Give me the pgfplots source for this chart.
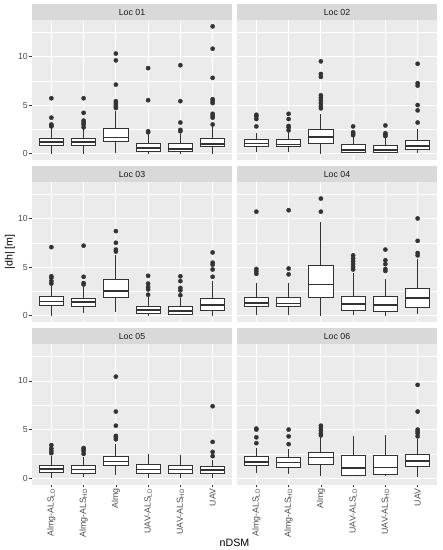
\documentclass[border=0pt]{standalone}
\usepackage{fontspec}
\setmainfont{Liberation Sans}
\usepackage{pgfplots}
\pgfplotsset{compat=1.18}
\usepgfplotslibrary{statistics}
\definecolor{panelbg}{HTML}{EBEBEB}
\definecolor{stripbg}{HTML}{D9D9D9}
\definecolor{boxc}{HTML}{333333}
\definecolor{ticklab}{HTML}{4D4D4D}
\definecolor{striptxt}{HTML}{1A1A1A}

\newcommand{\bx}[6]{\addplot[boxplot prepared={draw direction=y, draw position=#1, lower whisker=#2, lower quartile=#3, median=#4, upper quartile=#5, upper whisker=#6, box extend=0.75, whisker extend=0}, draw=boxc, fill=white, line width=0.8bp, solid] coordinates {};}
\newcommand{\outl}[1]{\addplot[only marks, mark=*, mark size=2.1bp, draw=boxc, fill=boxc, mark options={draw=boxc, fill=boxc}] coordinates {#1};}

\pgfplotsset{
  facet/.style={scale only axis, width=200bp, height=140bp, anchor=south west,
    xmin=0.4, xmax=6.6, ymin=-0.655, ymax=13.755,
    axis background/.style={fill=panelbg}, axis line style={draw=none},
    xmajorgrids, ymajorgrids, yminorgrids,
    xtick={1,2,3,4,5,6}, ytick={0,5,10}, minor ytick={2.5,7.5,12.5},
    major grid style={white, line width=0.9bp},
    minor grid style={white, line width=0.45bp},
    tick align=outside, xtick pos=bottom, ytick pos=left,
    major tick length=3bp, minor tick length=0pt,
    tick style={boxc, line width=0.6bp},
    minor tick style={draw=none},
    xticklabels={}, yticklabels={},
    boxplot/draw direction=y,
    boxplot/every median/.style={line width=1.7bp}},
  ylab/.style={yticklabels={0,5,10}, yticklabel style={font=\fontsize{8.8}{9}\selectfont, text=ticklab, inner sep=1bp}},
  noyt/.style={ytick style={draw=none}},
  xlab/.style={xticklabels={{Almg-ALS\textsubscript{LD}},{Almg-ALS\textsubscript{HD}},{Almg},{UAV-ALS\textsubscript{LD}},{UAV-ALS\textsubscript{HD}},{UAV}},
    xticklabel style={rotate=90, anchor=east, font=\fontsize{8.8}{9}\selectfont, text=ticklab, inner sep=1bp}},
  noxt/.style={xtick style={draw=none}},
}
\newcommand{\strip}[2]{%
  \fill[stripbg] (#1.north west) rectangle ([yshift=16bp]#1.north east);
  \node[font=\fontsize{8.8}{9}\selectfont, text=striptxt] at ([yshift=8bp]#1.north) {#2};}

\begin{document}
\begin{tikzpicture}
\useasboundingbox (0,0) rectangle (443bp,550bp);

% Loc 01
\begin{axis}[facet, ylab, noxt, name=a1, at={(32bp,390bp)}]
\bx{1}{0}{0.82}{1.2}{1.58}{2.64}
\bx{2}{0}{0.8}{1.2}{1.55}{2.5}
\bx{3}{0.05}{1.25}{1.65}{2.55}{4.4}
\bx{4}{0}{0.25}{0.55}{1.05}{2.1}
\bx{5}{0}{0.2}{0.45}{1.05}{2.0}
\bx{6}{0}{0.7}{1.0}{1.6}{2.9}
\outl{(1,5.7)(1,3.7)(1,3.0)(1,2.9)(1,2.8)
(2,5.7)(2,4.2)(2,3.4)(2,3.2)(2,3.0)(2,2.7)
(3,10.3)(3,9.6)(3,7.1)(3,5.4)(3,5.2)(3,5.0)(3,4.8)(3,4.7)
(4,8.8)(4,5.5)(4,2.3)(4,2.2)
(5,9.1)(5,5.4)(5,3.2)(5,2.45)(5,2.3)
(6,13.1)(6,10.8)(6,7.8)(6,5.6)(6,5.4)(6,5.2)(6,4.1)(6,3.9)(6,3.7)(6,3.0)}
\end{axis}

% Loc 02
\begin{axis}[facet, noyt, noxt, name=a2, at={(237bp,390bp)}]
\bx{1}{0.2}{0.72}{1.03}{1.47}{2.1}
\bx{2}{0.2}{0.72}{0.95}{1.45}{2.2}
\bx{3}{0}{1.05}{1.7}{2.45}{4.1}
\bx{4}{0.05}{0.15}{0.35}{0.9}{1.7}
\bx{5}{0.05}{0.15}{0.35}{0.8}{1.6}
\bx{6}{0.1}{0.45}{0.8}{1.4}{2.5}
\outl{(1,2.8)(1,3.56)(1,3.84)(1,4.0)
(2,2.4)(2,2.7)(2,2.85)(2,3.56)(2,4.1)
(3,4.66)(3,4.9)(3,5.2)(3,5.5)(3,5.75)(3,6.0)(3,7.9)(3,8.2)(3,9.5)
(4,1.9)(4,2.05)(4,2.2)(4,2.8)
(5,1.8)(5,1.95)(5,2.1)(5,2.9)
(6,3.2)(6,4.45)(6,5.0)(6,7.0)(6,7.25)(6,9.25)}
\end{axis}

% Loc 03
\begin{axis}[facet, ylab, noxt, name=a3, at={(32bp,228bp)}]
\bx{1}{0}{1.07}{1.44}{1.96}{3.1}
\bx{2}{0.27}{0.96}{1.37}{1.82}{2.95}
\bx{3}{0.35}{1.9}{2.5}{3.68}{6.2}
\bx{4}{0}{0.25}{0.55}{1.0}{1.9}
\bx{5}{0.03}{0.15}{0.48}{0.96}{1.8}
\bx{6}{0}{0.55}{1.13}{1.82}{3.57}
\outl{(1,7.05)(1,4.05)(1,3.9)(1,3.55)(1,3.3)
(2,7.2)(2,4.0)(2,3.35)(2,3.2)
(3,8.7)(3,7.5)(3,6.8)(3,6.6)
(4,2.15)(4,2.7)(4,2.95)(4,3.3)(4,4.1)
(5,2.1)(5,2.6)(5,2.85)(5,3.55)(5,4.05)
(6,4.0)(6,4.75)(6,5.25)(6,5.45)(6,6.5)}
\end{axis}

% Loc 04
\begin{axis}[facet, noyt, noxt, name=a4, at={(237bp,228bp)}]
\bx{1}{0.1}{0.9}{1.3}{1.92}{3.35}
\bx{2}{0.07}{0.9}{1.24}{1.92}{3.4}
\bx{3}{0}{1.92}{3.2}{5.2}{9.6}
\bx{4}{0.03}{0.55}{1.17}{2.03}{4.4}
\bx{5}{0}{0.48}{1.13}{1.96}{3.8}
\bx{6}{0.17}{0.82}{1.82}{2.85}{5.85}
\outl{(1,10.7)(1,4.8)(1,4.55)(1,4.3)
(2,10.85)(2,4.85)(2,4.25)
(3,10.7)(3,12.05)
(4,4.75)(4,5.0)(4,5.3)(4,5.6)(4,5.9)(4,6.2)
(5,4.6)(5,4.8)(5,5.3)(5,5.7)(5,6.8)
(6,6.2)(6,6.45)(6,7.7)(6,10.0)}
\end{axis}

% Loc 05
\begin{axis}[facet, ylab, xlab, name=a5, at={(32bp,65.5bp)}]
\bx{1}{0}{0.55}{0.92}{1.34}{2.3}
\bx{2}{0.07}{0.45}{0.9}{1.27}{2.2}
\bx{3}{0.35}{1.27}{1.7}{2.22}{3.5}
\bx{4}{0}{0.48}{0.9}{1.4}{2.47}
\bx{5}{0}{0.48}{0.9}{1.3}{2.4}
\bx{6}{0}{0.48}{0.82}{1.2}{1.88}
\outl{(1,2.57)(1,2.8)(1,3.05)(1,3.4)
(2,2.5)(2,2.8)(2,3.0)(2,3.1)
(3,4.0)(3,4.2)(3,4.35)(3,5.4)(3,6.85)(3,10.45)
(6,2.26)(6,2.7)(6,3.73)(6,7.4)}
\end{axis}

% Loc 06
\begin{axis}[facet, noyt, xlab, name=a6, at={(237bp,65.5bp)}]
\bx{1}{0.5}{1.27}{1.64}{2.22}{3.1}
\bx{2}{0.45}{1.13}{1.6}{2.12}{3.05}
\bx{3}{0.24}{1.44}{2.12}{2.64}{4.2}
\bx{4}{0.24}{0.3}{1.03}{2.33}{4.35}
\bx{5}{0.24}{0.34}{1.1}{2.36}{4.45}
\bx{6}{0.14}{1.23}{1.78}{2.47}{4.0}
\outl{(1,3.6)(1,4.2)(1,5.0)(1,5.1)
(2,3.5)(2,4.3)(2,5.0)
(3,4.4)(3,4.6)(3,4.9)(3,5.15)(3,5.4)
(6,4.3)(6,4.6)(6,4.8)(6,5.0)(6,6.85)(6,9.6)}
\end{axis}

\strip{a1}{Loc 01}
\strip{a2}{Loc 02}
\strip{a3}{Loc 03}
\strip{a4}{Loc 04}
\strip{a5}{Loc 05}
\strip{a6}{Loc 06}

\node[rotate=90, font=\fontsize{10.7}{12}\selectfont] at (10bp,298bp) {|dh| [m]};
\node[font=\fontsize{10.7}{12}\selectfont] at (234.5bp,7.5bp) {nDSM};
\end{tikzpicture}
\end{document}
